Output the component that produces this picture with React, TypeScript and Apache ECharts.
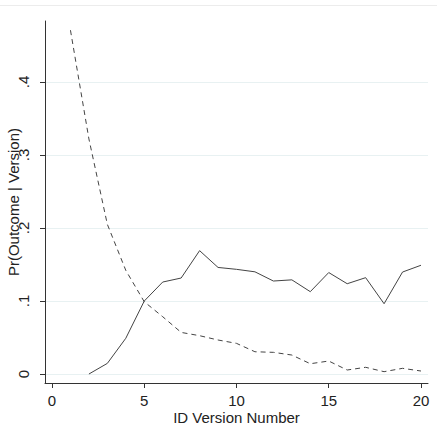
import React, { useEffect, useRef } from "react";
import * as echarts from "echarts";

const versions = [1, 2, 3, 4, 5, 6, 7, 8, 9, 10, 11, 12, 13, 14, 15, 16, 17, 18, 19, 20];
// dashed series (starts at version 1)
const dashedValues = [0.471, 0.322, 0.205, 0.142, 0.099, 0.0785, 0.057, 0.0525, 0.0466, 0.042, 0.0305, 0.0297, 0.026, 0.0141, 0.0178, 0.0055, 0.0092, 0.0032, 0.0078, 0.0041];
// solid series (starts at version 2)
const solidValues = [null, 0.0, 0.0146, 0.049, 0.1, 0.126, 0.1315, 0.169, 0.146, 0.1434, 0.14, 0.1274, 0.129, 0.1128, 0.139, 0.1237, 0.132, 0.0963, 0.1397, 0.149];
const xTicks = [0, 5, 10, 15, 20];
const yTicks = [0, 0.1, 0.2, 0.3, 0.4];

export default function App() {
  const ref = useRef<HTMLDivElement>(null);
  useEffect(() => {
    if (!ref.current) return;
    const chart = echarts.init(ref.current, null, { renderer: "svg" });
    const font = "'Liberation Sans', Arial, sans-serif";
    chart.setOption({
      animation: false,
      backgroundColor: "#ffffff",
      grid: { left: 45, top: 21, right: 9, bottom: 57, containLabel: false, outerBoundsMode: "none" },
      graphic: [
        {
          type: "line",
          shape: { x1: 0, y1: 5.5, x2: 437, y2: 5.5 },
          style: { stroke: "#ececec", lineWidth: 1 },
          silent: true,
        },
      ],
      xAxis: {
        type: "value",
        min: -0.38,
        max: 20.38,
        name: "ID Version Number",
        nameLocation: "middle",
        nameGap: 27,
        nameMoveOverlap: false,
        nameTextStyle: { fontFamily: font, fontSize: 15, color: "#222" },
        axisLine: { show: true, onZero: false, lineStyle: { color: "#333", width: 1 } },
        axisTick: { show: true, length: 5, lineStyle: { color: "#333" }, customValues: xTicks },
        axisLabel: {
          customValues: xTicks,
          fontFamily: font,
          fontSize: 15,
          color: "#222",
          margin: 10,
          formatter: (v: number) => String(v),
        },
        splitLine: { show: false },
      },
      yAxis: {
        type: "value",
        min: -0.0123,
        max: 0.4836,
        name: "Pr(Outcome | Version)",
        nameLocation: "middle",
        nameRotate: 90,
        nameGap: 24,
        nameMoveOverlap: false,
        nameTextStyle: { fontFamily: font, fontSize: 15, color: "#222" },
        axisLine: { show: true, onZero: false, lineStyle: { color: "#333", width: 1 } },
        axisTick: { show: true, length: 5, lineStyle: { color: "#333" }, customValues: yTicks },
        axisLabel: {
          customValues: yTicks,
          rotate: 90,
          fontFamily: font,
          fontSize: 15,
          color: "#222",
          margin: 14,
          formatter: (v: number) => (Math.abs(v) < 1e-9 ? "0" : "." + Math.round(v * 10)),
        },
        splitLine: { show: false },
      },
      series: [
        {
          type: "line",
          data: versions.map((v, i) => [v, dashedValues[i]]),
          showSymbol: false,
          symbol: "none",
          lineStyle: { color: "#444", width: 1, type: [5, 4] },
          markLine: {
            silent: true,
            symbol: "none",
            label: { show: false },
            lineStyle: { color: "#e8f1f2", width: 1, type: "solid" },
            data: yTicks.map((t) => ({ yAxis: t })),
            z: 0,
          },
          z: 3,
        },
        {
          type: "line",
          data: versions
            .map((v, i) => [v, solidValues[i]])
            .filter((p) => p[1] !== null),
          showSymbol: false,
          symbol: "none",
          lineStyle: { color: "#444", width: 1, type: "solid" },
          z: 3,
        },
      ],
    });
    return () => chart.dispose();
  }, []);
  return <div ref={ref} style={{ width: 437, height: 440, position: "absolute", left: 0, top: 0 }} />;
}
